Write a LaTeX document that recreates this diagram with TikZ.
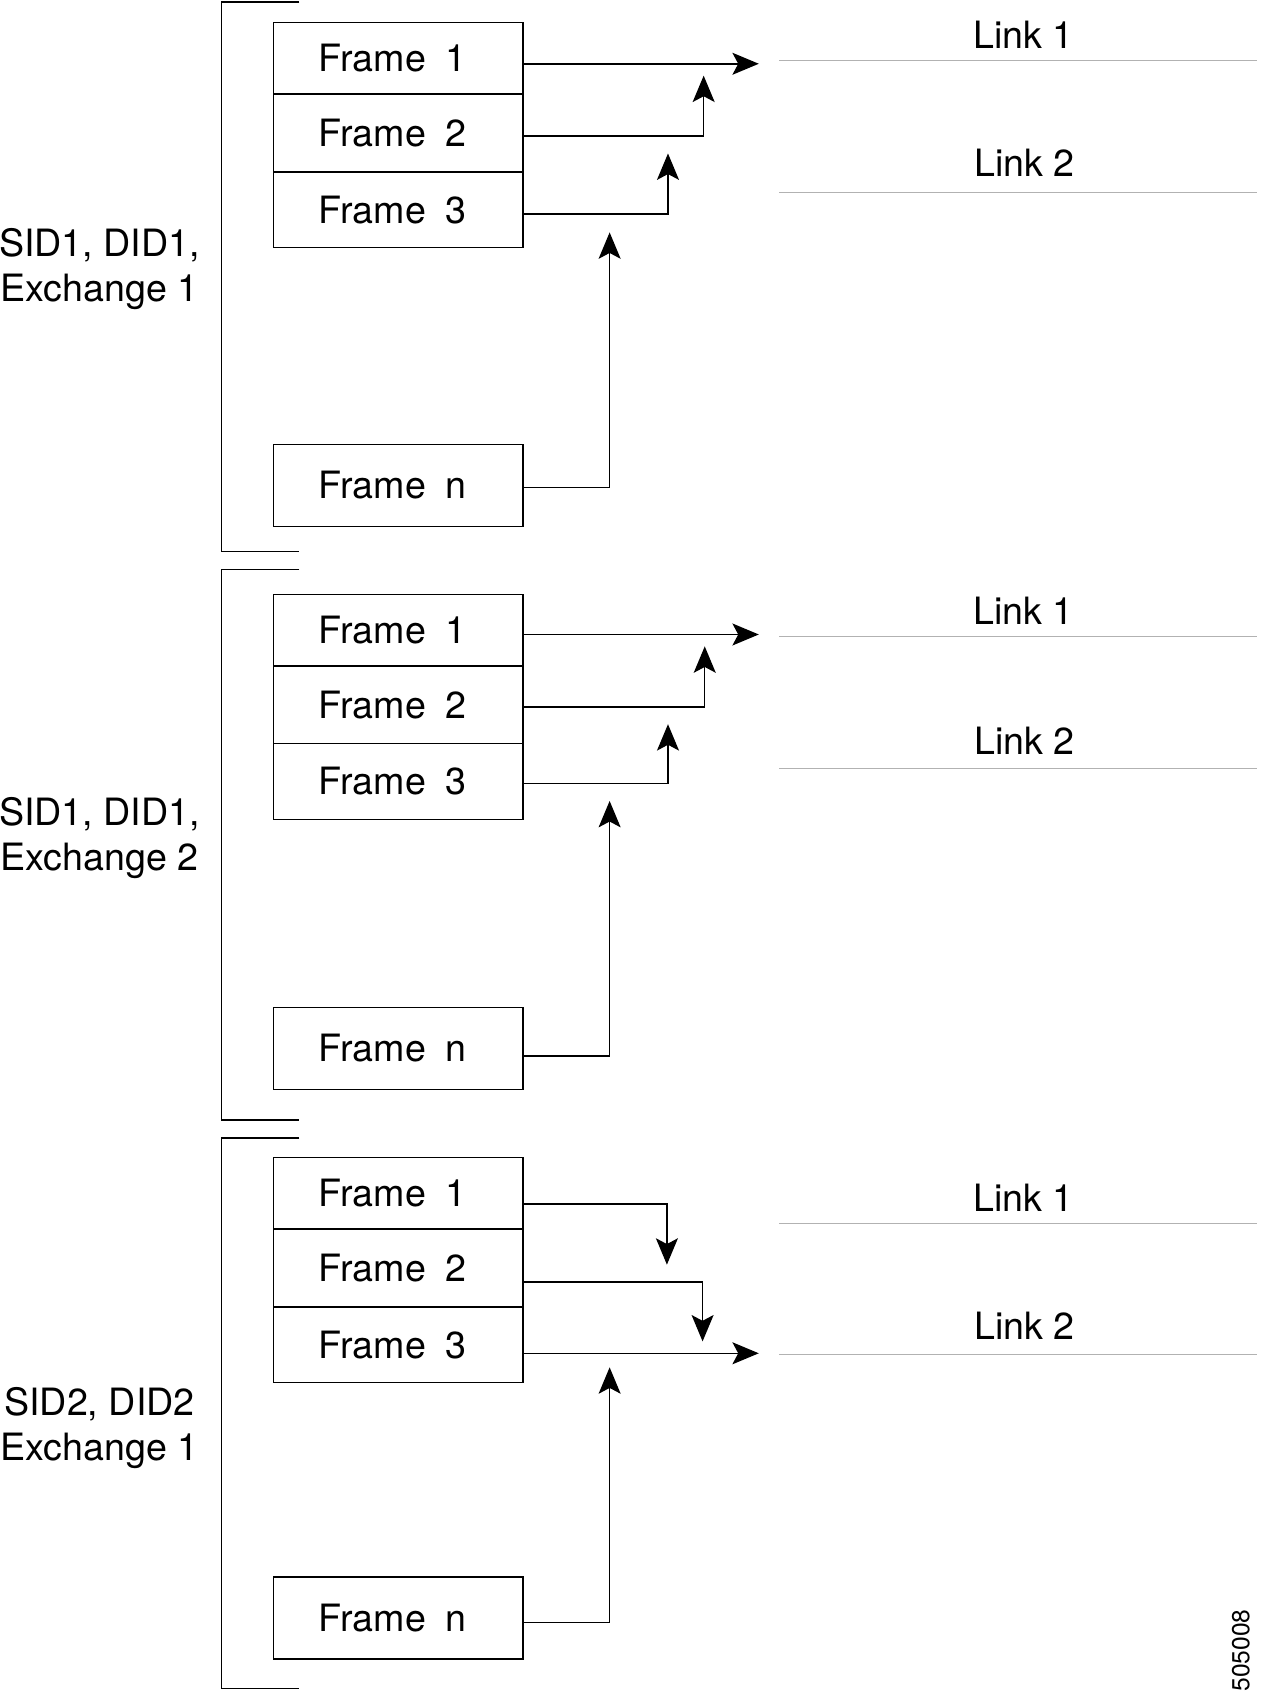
\documentclass[tikz,border=0pt]{standalone}
\usepackage{fontspec}
\setmainfont{TeX Gyre Heros}
\usetikzlibrary{arrows.meta}
\newcommand{\lblfont}{\fontsize{21.4}{25.6}\selectfont}
\newcommand{\gap}{\hspace{0.52em}}

\begin{document}
\begin{tikzpicture}[x=0.0216cm, y=-0.0216cm,
		frame/.style={draw, line width=0.8pt, text width=3.175cm, inner xsep=0.907cm, inner ysep=0pt, align=left, font=\lblfont},
		arr/.style={line width=0.85pt, -{Stealth[length=15pt, width=12.5pt, inset=3.3pt]}},
		bracket/.style={line width=0.8pt},
		linkline/.style={line width=0.5pt, color=black!30},
		linklbl/.style={font=\lblfont},
		grp/.style={align=center, font=\lblfont}]
			%%%%% START %%%%%
			
			\useasboundingbox (0, 0) rectangle (1170, 1570);
			
			% group 1
			\draw[bracket] (277, 2) -- (205, 2) -- (205, 510) -- (277, 510);
			\node[grp] (g1lbl) at (92, 249) {SID1, DID1,\\Exchange 1};
			
			\node[frame, minimum height=1.426cm] (g1f1) at (368.5, 54) {Frame\gap 1};
			\node[frame, minimum height=1.555cm] (g1f2) at (368.5, 123) {Frame\gap 2};
			\node[frame, minimum height=1.512cm] (g1f3) at (368.5, 194) {Frame\gap 3};
			\node[frame, minimum height=1.642cm] (g1fn) at (368.5, 449) {Frame\gap n};
			
			\coordinate (g1l1a) at (721, 56);
			\coordinate (g1l1b) at (1163, 56);
			\coordinate (g1l2a) at (721, 178);
			\coordinate (g1l2b) at (1163, 178);
			\draw[linkline] (g1l1a) -- (g1l1b);
			\draw[linkline] (g1l2a) -- (g1l2b);
			\node[linklbl] (g1link1) at (947, 32) {Link 1};
			\node[linklbl] (g1link2) at (948, 151) {Link 2};
			
			\coordinate (g1t1) at (702, 59);
			\coordinate (g1k2) at (651, 126);
			\coordinate (g1t2) at (651, 70);
			\coordinate (g1k3) at (618, 198);
			\coordinate (g1t3) at (618, 142);
			\coordinate (g1kn) at (564, 451);
			\coordinate (g1tn) at (564, 215);
			\draw[arr] (g1f1.east |- g1t1) -- (g1t1);
			\draw[arr] (g1f2.east |- g1k2) -- (g1k2) -- (g1t2);
			\draw[arr] (g1f3.east |- g1k3) -- (g1k3) -- (g1t3);
			\draw[arr] (g1fn.east |- g1kn) -- (g1kn) -- (g1tn);
			
			% group 2
			\draw[bracket] (277, 527) -- (205, 527) -- (205, 1036) -- (277, 1036);
			\node[grp] (g2lbl) at (92, 775) {SID1, DID1,\\Exchange 2};
			
			\node[frame, minimum height=1.426cm] (g2f1) at (368.5, 583) {Frame\gap 1};
			\node[frame, minimum height=1.555cm] (g2f2) at (368.5, 652) {Frame\gap 2};
			\node[frame, minimum height=1.512cm] (g2f3) at (368.5, 723) {Frame\gap 3};
			\node[frame, minimum height=1.642cm] (g2fn) at (368.5, 970) {Frame\gap n};
			
			\coordinate (g2l1a) at (721, 589);
			\coordinate (g2l1b) at (1163, 589);
			\coordinate (g2l2a) at (721, 711);
			\coordinate (g2l2b) at (1163, 711);
			\draw[linkline] (g2l1a) -- (g2l1b);
			\draw[linkline] (g2l2a) -- (g2l2b);
			\node[linklbl] (g2link1) at (947, 565) {Link 1};
			\node[linklbl] (g2link2) at (948, 685) {Link 2};
			
			\coordinate (g2t1) at (702, 587);
			\coordinate (g2k2) at (652, 654);
			\coordinate (g2t2) at (652, 598);
			\coordinate (g2k3) at (618, 725);
			\coordinate (g2t3) at (618, 670);
			\coordinate (g2kn) at (564, 977);
			\coordinate (g2tn) at (564, 741);
			\draw[arr] (g2f1.east |- g2t1) -- (g2t1);
			\draw[arr] (g2f2.east |- g2k2) -- (g2k2) -- (g2t2);
			\draw[arr] (g2f3.east |- g2k3) -- (g2k3) -- (g2t3);
			\draw[arr] (g2fn.east |- g2kn) -- (g2kn) -- (g2tn);
			
			% group 3
			\draw[bracket] (277, 1053) -- (205, 1053) -- (205, 1562) -- (277, 1562);
			\node[grp] (g3lbl) at (92, 1321) {SID2, DID2\\Exchange 1};
			
			\node[frame, minimum height=1.426cm] (g3f1) at (368.5, 1104) {Frame\gap 1};
			\node[frame, minimum height=1.555cm] (g3f2) at (368.5, 1173) {Frame\gap 2};
			\node[frame, minimum height=1.512cm] (g3f3) at (368.5, 1244) {Frame\gap 3};
			\node[frame, minimum height=1.642cm] (g3fn) at (368.5, 1497) {Frame\gap n};
			
			\coordinate (g3l1a) at (721, 1132);
			\coordinate (g3l1b) at (1163, 1132);
			\coordinate (g3l2a) at (721, 1253);
			\coordinate (g3l2b) at (1163, 1253);
			\draw[linkline] (g3l1a) -- (g3l1b);
			\draw[linkline] (g3l2a) -- (g3l2b);
			\node[linklbl] (g3link1) at (947, 1108) {Link 1};
			\node[linklbl] (g3link2) at (948, 1227) {Link 2};
			
			\coordinate (g3k1) at (617, 1114);
			\coordinate (g3t1) at (617, 1170);
			\coordinate (g3k2) at (650, 1186);
			\coordinate (g3t2) at (650, 1241);
			\coordinate (g3t3) at (702, 1252);
			\coordinate (g3kn) at (564, 1501);
			\coordinate (g3tn) at (564, 1265);
			\draw[arr] (g3f1.east |- g3k1) -- (g3k1) -- (g3t1);
			\draw[arr] (g3f2.east |- g3k2) -- (g3k2) -- (g3t2);
			\draw[arr] (g3f3.east |- g3t3) -- (g3t3);
			\draw[arr] (g3fn.east |- g3kn) -- (g3kn) -- (g3tn);
			
			\node[rotate=90, font=\fontsize{14}{16}\selectfont] (figno) at (1148, 1527) {505008};
			
			%%%%% END %%%%%
\end{tikzpicture}
\end{document}
